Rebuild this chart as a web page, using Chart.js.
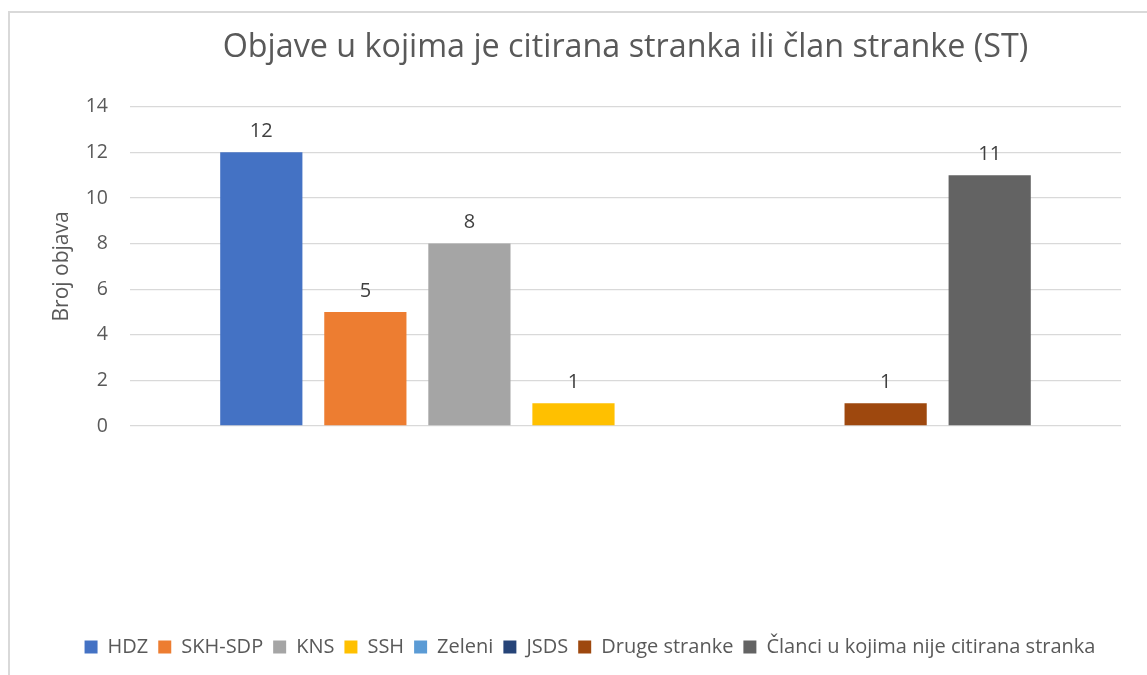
<!DOCTYPE html>
<html>
<head>
<meta charset="utf-8">
<script src="https://cdn.jsdelivr.net/npm/chart.js@4/dist/chart.umd.min.js"></script>
<style>
    html, body { margin: 0; padding: 0; background: #fff; overflow: hidden; }
    .frame {
        position: absolute; left: 8px; top: 11px; width: 1200px; height: 700px;
        border-left: 2px solid #d9d9d9; border-top: 2px solid #d9d9d9;
    }
    .wrap { position: absolute; left: 0; top: 0; width: 1147px; height: 675px; }
</style>
</head>
<body>
<div class="frame"></div>
<div class="wrap"><canvas id="stChart" width="1147" height="675"></canvas></div>
<script>
// ===== Data =====
const categories = [''];
const seriesNames = ['HDZ', 'SKH-SDP', 'KNS', 'SSH', 'Zeleni', 'JSDS', 'Druge stranke', 'Članci u kojima nije citirana stranka'];
const seriesValues = [12, 5, 8, 1, 0, 0, 1, 11];
const seriesColors = ['#4472C4', '#ED7D31', '#A5A5A5', '#FFC000', '#5B9BD5', '#264478', '#9E480E', '#636363'];
const yTicks = [0, 2, 4, 6, 8, 10, 12, 14];

const FONT = '"Open Sans", "Noto Sans", sans-serif';
const textGray = '#595959';

// Value labels above the bars (zeros get no label)
const barLabels = {
    id: 'barLabels',
    afterDatasetsDraw(chart) {
        const ctx = chart.ctx;
        ctx.save();
        ctx.font = '20px ' + FONT;
        ctx.fillStyle = '#404040';
        ctx.textAlign = 'center';
        ctx.textBaseline = 'middle';
        chart.data.datasets.forEach((ds, i) => {
            const meta = chart.getDatasetMeta(i);
            meta.data.forEach((bar, j) => {
                const v = ds.data[j];
                if (v > 0) ctx.fillText(String(v), bar.x, bar.y - 21);
            });
        });
        ctx.restore();
    }
};

const PAD_LEFT = 59;
const PAD_BOTTOM = 8;

const ctx = document.getElementById('stChart');
new Chart(ctx, {
    type: 'bar',
    data: {
        labels: categories,
        datasets: seriesNames.map((name, i) => ({
            label: name,
            data: [seriesValues[i]],
            backgroundColor: seriesColors[i],
            categoryPercentage: 0.84,
            barPercentage: 0.79
        }))
    },
    options: {
        responsive: false,
        animation: false,
        layout: { padding: { left: PAD_LEFT, right: 26, top: 0, bottom: PAD_BOTTOM } },
        scales: {
            x: {
                grid: { display: false },
                border: { display: false },
                ticks: { display: false },
                afterFit: function(scale) {
                    scale.height = 675 - 426 - scale.chart.legend.height - PAD_BOTTOM;
                }
            },
            y: {
                min: 0,
                max: 14,
                afterBuildTicks: function(scale) {
                    scale.ticks = yTicks.map(v => ({ value: v }));
                },
                grid: { color: '#d9d9d9', lineWidth: 1.3, drawTicks: false },
                border: { display: false },
                ticks: { color: textGray, font: { family: FONT, size: 19.5 }, padding: 22 },
                title: {
                    display: true,
                    text: 'Broj objava',
                    color: textGray,
                    font: { family: FONT, size: 21 },
                    padding: { top: -9.6, bottom: 0 }
                },
                afterFit: function(scale) {
                    scale.width = 130 - PAD_LEFT;
                }
            }
        },
        plugins: {
            title: {
                display: true,
                fullSize: false,
                text: 'Objave u kojima je citirana stranka ili član stranke (ST)',
                color: textGray,
                font: { family: FONT, size: 32.3, weight: 'normal' },
                padding: { top: 28, bottom: 40 }
            },
            legend: {
                position: 'bottom',
                labels: {
                    color: textGray,
                    font: { family: FONT, size: 20 },
                    boxWidth: 13,
                    boxHeight: 13,
                    padding: 10
                }
            },
            tooltip: { enabled: false }
        }
    },
    plugins: [barLabels]
});
</script>
</body>
</html>
